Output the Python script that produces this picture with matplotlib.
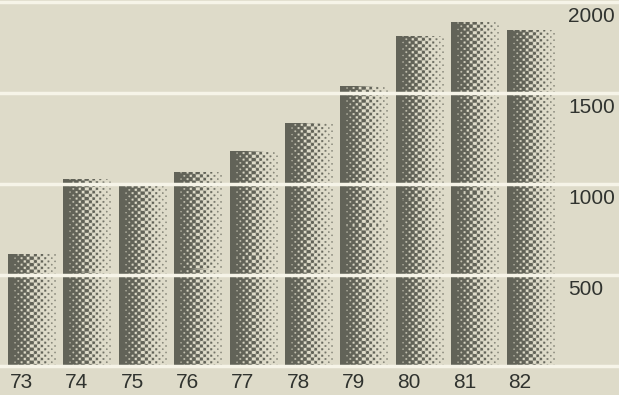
import numpy as np
import matplotlib.pyplot as plt

# years and values
years = ['73', '74', '75', '76', '77', '78', '79', '80', '81', '82']
values = [615, 1022, 1005, 1062, 1176, 1335, 1533, 1808, 1885, 1846]
ticks = [500, 1000, 1500, 2000]

bg = np.array([222, 219, 201]) / 255
ink = np.array([98, 99, 88]) / 255
bar_w = 0.85
px_per_unit = 91 / 500    # vertical pixels per value unit
px_per_bar = 55.4         # horizontal pixels per bar slot


def halftone(w_px, h_px):
    # 45 degree dot screen, darkness fading from left to right
    yy, xx = np.mgrid[0:h_px, 0:w_px].astype(float)
    u = xx / max(w_px - 1, 1)
    ramp = np.clip((u - 0.1) / 0.95, 0, 1)
    tone = np.clip((1 - ramp) ** 1.15, 0.08, 1.0)
    p = 4.6
    screen = (np.cos(2 * np.pi * (xx + yy) / p / np.sqrt(2)) +
              np.cos(2 * np.pi * (xx - yy) / p / np.sqrt(2))) / 4 + 0.5
    cover = np.clip((screen - (1 - tone)) * 2.2 + 0.5, 0, 1)
    cover = np.where(u < 0.1, 1.0, cover)
    img = cover[..., None] * ink + (1 - cover[..., None]) * bg
    return img


fig = plt.figure(figsize=(6.19, 3.95), dpi=100)
fig.patch.set_facecolor(bg)
ax = fig.add_axes([0, 0, 1, 1])
ax.set_facecolor(bg)
ax.set_xlim(-31.5 / px_per_bar, (619 - 31.5) / px_per_bar)
ax.set_ylim(-29 / px_per_unit, 366 / px_per_unit)
ax.axis('off')

for i, v in enumerate(values):
    x0 = i - bar_w / 2
    img = halftone(int(round(bar_w * px_per_bar)), int(round(v * px_per_unit)))
    ax.imshow(img, extent=(x0, x0 + bar_w, 0, v), origin='lower',
              interpolation='nearest', aspect='auto', zorder=2)
    ax.text(x0 + 0.03, -93, years[i], fontsize=15, color='#30332f',
            family='Liberation Sans', ha='left', va='center')

# white rules across the bars
for t in [0] + ticks:
    ax.axhline(t, color='#f6f4e8', lw=2.5, zorder=3)

for t in ticks:
    ax.text((568 - 31.5) / px_per_bar, t - 82, str(t), fontsize=15,
            color='#30332f', family='Liberation Sans', ha='left', va='center')

fig.savefig('out.png', dpi=100, facecolor=bg)
